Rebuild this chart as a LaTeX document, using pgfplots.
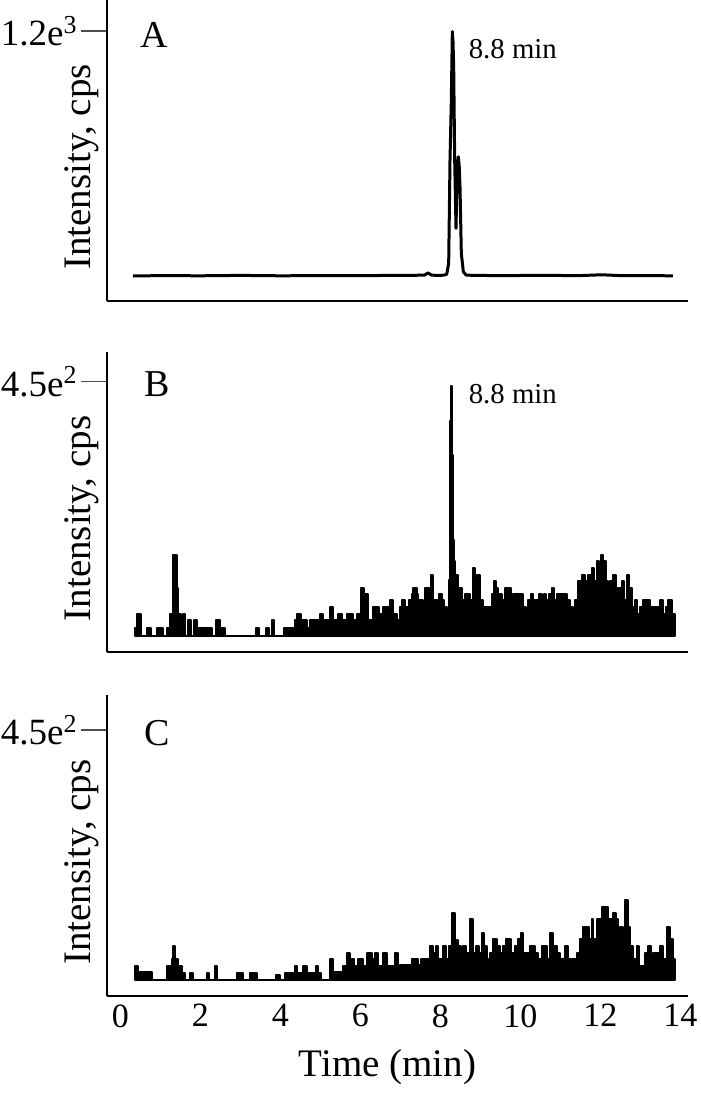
\documentclass[border=0pt]{standalone}
\usepackage{fontspec}
\setmainfont{Liberation Serif}
\usepackage{pgfplots}
\pgfplotsset{compat=1.18}

% common look of the three chromatogram panels
\pgfplotsset{
  chrom/.style={
    scale only axis, width=290.5pt,
    xmin=-0.335, xmax=14.19,
    axis lines=left,
    axis line style={-, line width=1.1pt},
    tick align=outside, major tick length=13pt,
    ytick style={line width=0.6pt, black!70},
    xtick style={draw=none},
    xtick=\empty,
    yticklabel style={font=\fontsize{18.5}{18.5}\selectfont, inner xsep=1.5pt},
    ylabel={Intensity, cps},
    ylabel style={font=\fontsize{19.5}{20}\selectfont,
      at={(axis description cs:-0.043,0.445)}, anchor=center},
    clip=false,
  },
  noise/.style={const plot, draw=black, fill=black, line width=1pt, line join=round},
}
\tikzset{panel/.style={font=\fontsize{19}{19}\selectfont}}

\begin{document}
\begin{tikzpicture}
\useasboundingbox (0,0) rectangle (350pt,-547.5pt);

% ---------- A ----------
\begin{axis}[chrom, at={(53.5pt,-150.5pt)}, anchor=south west,
  height=150.5pt, ymin=-122.4, ymax=1351.8,
  ytick={1200}, yticklabels={{1.2e\textsuperscript{3}}}]
\addplot[black, line width=1.5pt, line join=round] coordinates {
  (0.31,0) (1.0,2) (2.0,1) (3.0,3) (4.0,1) (5.0,2) (6.0,2) (7.0,3)
  (7.6,4) (7.69,15) (7.78,4) (8.0,3) (8.1,5) (8.157,8)
  (8.207,62) (8.24,568) (8.273,862) (8.298,1197) (8.315,1150) (8.332,1025)
  (8.357,568) (8.39,233) (8.423,535) (8.448,584) (8.47,540) (8.49,437)
  (8.523,111) (8.573,21) (8.64,5) (8.8,3) (9.5,2) (10.5,3) (11.5,2)
  (12.03,6) (12.5,2) (13.0,2) (13.81,1)
};
\node[panel] at (axis cs:0.84,1180) {A};
\node[font=\fontsize{14.4}{15}\selectfont] at (axis cs:9.81,1112) {8.8 min};
\end{axis}

% ---------- B ----------
\begin{axis}[chrom, at={(53.5pt,-326pt)}, anchor=south west,
  height=150pt, ymin=-28.3, ymax=502.6,
  ytick={450}, yticklabels={{4.5e\textsuperscript{2}}}]
\addplot[noise] coordinates {
  (0.365,15) (0.423,39) (0.507,0) (0.657,15) (0.757,0) (0.907,15) (1.073,0)
  (1.157,15) (1.24,39) (1.323,144) (1.407,85) (1.448,39) (1.507,0)
  (1.557,39) (1.615,0) (1.698,28) (1.765,0) (1.84,28) (1.907,15) (2.282,0)
  (2.39,28) (2.49,15) (2.615,0) (3.39,15) (3.473,0) (3.64,15) (3.707,0)
  (3.782,28) (3.84,0) (4.09,15) (4.365,28) (4.423,39) (4.507,28) (4.657,15)
  (4.74,28) (4.99,39) (5.073,28) (5.24,51) (5.307,28) (5.448,39) (5.532,28)
  (5.673,39) (5.823,28) (5.907,39) (6.007,85) (6.09,75) (6.198,28)
  (6.323,51) (6.473,39) (6.573,51) (6.74,63) (6.823,39) (6.907,28)
  (6.99,51) (7.048,63) (7.115,51) (7.223,63) (7.282,75) (7.323,85)
  (7.407,75) (7.448,63) (7.573,51) (7.615,85) (7.757,108) (7.823,63)
  (7.973,75) (8.032,63) (8.09,51) (8.157,39)
  (8.20,39) (8.22,100) (8.235,250) (8.25,380) (8.265,443) (8.29,380)
  (8.30,320) (8.31,250) (8.32,170) (8.33,132) (8.365,108)
  (8.448,85) (8.532,63) (8.615,75) (8.74,63) (8.807,120) (8.865,85)
  (8.923,108) (8.99,63) (9.057,51) (9.282,75) (9.34,97) (9.39,85)
  (9.448,75) (9.532,63) (9.615,85) (9.657,63) (9.698,85) (9.757,63)
  (9.823,75) (10.057,51) (10.14,39) (10.198,63) (10.257,75) (10.307,63)
  (10.473,75) (10.532,63) (10.59,75) (10.64,63) (10.723,75) (10.782,85)
  (10.84,63) (10.907,75) (11.157,63) (11.24,51) (11.307,39) (11.365,63)
  (11.448,97) (11.532,108) (11.615,97) (11.698,108) (11.782,120)
  (11.84,97) (11.907,132) (11.965,120) (12.015,144) (12.073,132)
  (12.14,97) (12.198,85) (12.24,97) (12.323,108) (12.39,85) (12.532,97)
  (12.59,63) (12.657,108) (12.723,85) (12.782,51) (12.865,63) (12.923,39)
  (12.99,51) (13.073,63) (13.24,51) (13.49,63) (13.573,39) (13.64,51)
  (13.698,63) (13.782,39) (13.865,39)
} \closedcycle;
\node[panel] at (axis cs:0.915,445) {B};
\node[font=\fontsize{14.4}{15}\selectfont] at (axis cs:9.81,428) {8.8 min};
\end{axis}

% ---------- C ----------
\begin{axis}[chrom, at={(53.5pt,-498pt)}, anchor=south west,
  height=150.5pt, ymin=-28.8, ymax=513,
  ytick={450}, yticklabels={{4.5e\textsuperscript{2}}},
  xtick={0,2,...,14},
  /pgf/number format/assume math mode=true,
  xticklabel style={font=\fontsize{17}{17}\selectfont, inner ysep=0pt, yshift=9pt},
  xlabel={Time (min)},
  xlabel style={font=\fontsize{19.5}{20}\selectfont,
    at={(axis description cs:0.483,-0.236)}, anchor=center}]
\addplot[noise] coordinates {
  (0.365,25) (0.448,15) (0.782,0) (1.173,25) (1.282,38) (1.307,61)
  (1.365,38) (1.448,25) (1.532,12) (1.615,0) (1.74,12) (1.807,0)
  (2.157,13) (2.223,0) (2.365,25) (2.423,0)
  (2.907,13) (2.95,0) (2.97,13) (3.0,0) (3.02,13) (3.057,0)
  (3.24,13) (3.29,0) (3.31,13) (3.36,0) (3.38,13) (3.407,0)
  (3.89,9) (3.99,0) (4.115,13) (4.365,25) (4.423,13) (4.573,25)
  (4.673,13) (4.89,25) (4.948,13) (5.007,0) (5.24,38) (5.307,15)
  (5.573,25) (5.673,49) (5.74,38) (5.84,25) (5.948,38) (6.073,25)
  (6.157,49) (6.282,38) (6.365,49) (6.448,25) (6.557,49) (6.657,25)
  (6.865,49) (6.948,25) (7.0,27)
  (7.282,38) (7.448,27) (7.507,38) (7.74,61) (7.823,49) (7.89,61)
  (7.948,38) (8.057,61) (8.14,38) (8.223,61) (8.282,120) (8.365,72)
  (8.448,61) (8.515,49) (8.573,61) (8.64,49) (8.74,109) (8.823,49)
  (8.89,61) (8.973,49) (9.032,85) (9.09,61) (9.157,37) (9.24,49)
  (9.323,73) (9.407,61) (9.49,49) (9.573,61) (9.64,73) (9.757,49)
  (9.865,61) (9.948,73) (10.007,85) (10.073,49) (10.24,61) (10.365,49)
  (10.448,37) (10.532,61) (10.657,37) (10.74,85) (10.807,61) (10.907,49)
  (10.99,37) (11.115,61) (11.198,37) (11.407,49) (11.49,73) (11.557,96)
  (11.723,73) (11.782,109) (11.823,73) (11.923,109) (12.032,132)
  (12.198,109) (12.282,73) (12.323,120) (12.39,109) (12.448,61)
  (12.49,96) (12.557,73) (12.615,144) (12.682,96) (12.74,61) (12.823,37)
  (12.907,61) (12.957,25) (13.115,49) (13.198,61) (13.257,37) (13.323,49)
  (13.49,61) (13.573,37) (13.657,96) (13.74,73) (13.807,37) (13.865,37)
} \closedcycle;
\node[panel] at (axis cs:0.915,445) {C};
\end{axis}
\end{tikzpicture}
\end{document}
